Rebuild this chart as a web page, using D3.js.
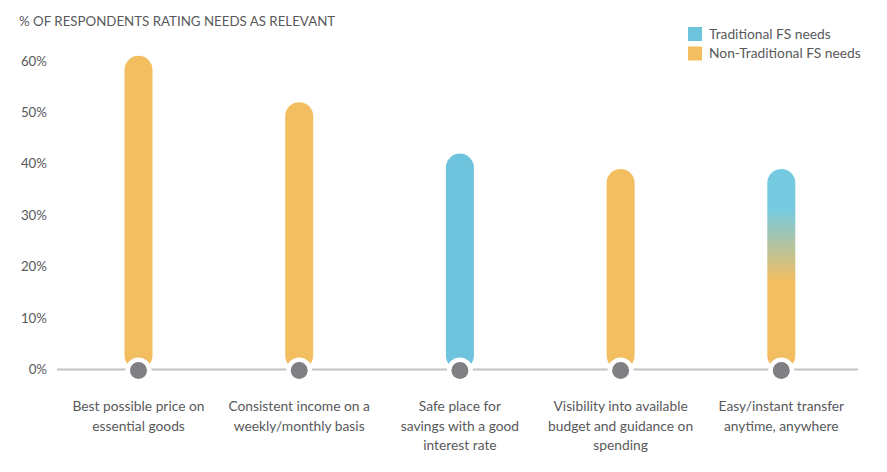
<!DOCTYPE html>
<html>
<head>
<meta charset="utf-8">
<script src="https://cdn.jsdelivr.net/npm/d3@7"></script>
<style>
  body { margin: 0; background: #fff; }
  text { font-family: Lato, "Open Sans", sans-serif; fill: #58595b; }
</style>
</head>
<body>
<div id="chart"></div>
<script>
// data
const categories = [
    ["Best possible price on", "essential goods"],
    ["Consistent income on a", "weekly/monthly basis"],
    ["Safe place for", "savings with a good", "interest rate"],
    ["Visibility into available", "budget and guidance on", "spending"],
    ["Easy/instant transfer", "anytime, anywhere"]
]
const values = [61, 52, 42, 39, 39]
const needType = ["non", "non", "trad", "non", "both"]
const yTicks = [0, 10, 20, 30, 40, 50, 60]
const legendItems = ["Traditional FS needs", "Non-Traditional FS needs"]

const blue = "#6fc4dd"
const orange = "#f2be60"

const width = 887, height = 472

const svg = d3.select("#chart").append("svg")
    .attr("width", width)
    .attr("height", height)

const defs = svg.append("defs")
const grad = defs.append("linearGradient")
    .attr("id", "mixGrad")
    .attr("x1", 0).attr("y1", 0).attr("x2", 0).attr("y2", 1)
grad.append("stop").attr("offset", "0.2").attr("stop-color", "#75cae0")
grad.append("stop").attr("offset", "0.56").attr("stop-color", orange)

const fillFor = (t) => {
    if (t == "trad") return blue
    else if (t == "non") return orange
    else return "url(#mixGrad)"
}

const y = d3.scaleLinear().domain([0, 60]).range([369.5, 61])
const x = d3.scalePoint()
    .domain(d3.range(categories.length))
    .range([138.5, 781.3])

// title
svg.append("text")
    .attr("x", 19)
    .attr("y", 26)
    .style("font-size", "13.3px")
    .text("% OF RESPONDENTS RATING NEEDS AS RELEVANT")

// y tick labels
svg.selectAll(".ytick")
    .data(yTicks)
    .join("text")
    .attr("class", "ytick")
    .attr("x", 47)
    .attr("y", d => y(d))
    .attr("dy", "0.35em")
    .attr("text-anchor", "end")
    .style("font-size", "13.3px")
    .text(d => d + "%")

// baseline
svg.append("line")
    .attr("x1", 57).attr("x2", 858)
    .attr("y1", y(0)).attr("y2", y(0))
    .attr("stroke", "#c2c2c6")
    .attr("stroke-width", 2)

const barW = 28

svg.selectAll(".bar")
    .data(values)
    .join("rect")
    .attr("class", "bar")
    .attr("x", (d, i) => x(i) - barW / 2)
    .attr("y", d => y(d))
    .attr("width", barW)
    .attr("height", d => y(0) - y(d))
    .attr("rx", barW / 2)
    .attr("fill", (d, i) => fillFor(needType[i]))

// white ring + gray dot at foot of each bar
svg.selectAll(".ring")
    .data(values)
    .join("circle")
    .attr("class", "ring")
    .attr("cx", (d, i) => x(i))
    .attr("cy", y(0) + 1)
    .attr("r", 13)
    .attr("fill", "#fff")

svg.selectAll(".dot")
    .data(values)
    .join("circle")
    .attr("class", "dot")
    .attr("cx", (d, i) => x(i))
    .attr("cy", y(0) + 1)
    .attr("r", 8.5)
    .attr("fill", "#808084")

// category labels
const catLabels = svg.selectAll(".cat")
    .data(categories)
    .join("text")
    .attr("class", "cat")
    .attr("text-anchor", "middle")
    .style("font-size", "13.8px")

catLabels.selectAll("tspan")
    .data((d, i) => d.map(line => ({ line: line, i: i })))
    .join("tspan")
    .attr("x", d => x(d.i))
    .attr("y", (d, j) => 411 + j * 19.6)
    .text(d => d.line)

// legend
const legend = svg.append("g").attr("transform", "translate(688,27)")
legend.selectAll("rect")
    .data(legendItems)
    .join("rect")
    .attr("x", 0)
    .attr("y", (d, i) => i * 19.5)
    .attr("width", 14)
    .attr("height", 14)
    .attr("fill", (d, i) => i == 0 ? blue : orange)

legend.selectAll("text")
    .data(legendItems)
    .join("text")
    .attr("x", 21)
    .attr("y", (d, i) => i * 19.5 + 7)
    .attr("dy", "0.35em")
    .style("font-size", "13.8px")
    .text(d => d)
</script>
</body>
</html>
